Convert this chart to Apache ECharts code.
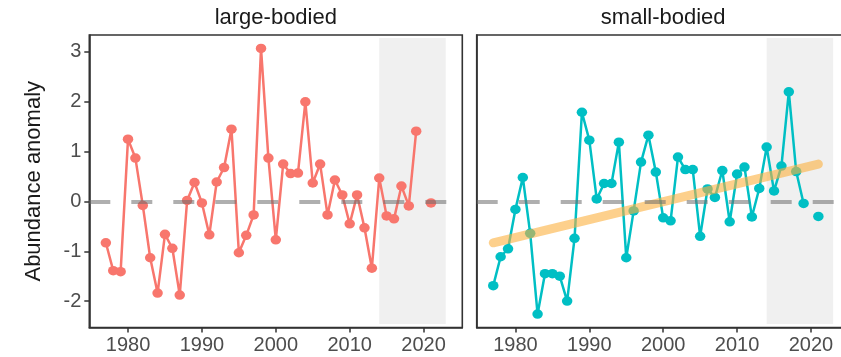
<!DOCTYPE html>
<html>
<head>
<meta charset="utf-8">
<script src="https://cdn.jsdelivr.net/npm/echarts@6/dist/echarts.min.js"></script>
<style>
  html, body { margin: 0; padding: 0; background: #fff; overflow: hidden; }
  #chart { width: 860px; height: 357px; }
</style>
</head>
<body>
<div id="chart"></div>
<script>
// Survey years (2020 has no sample)
const years = [
  1977, 1978, 1979, 1980, 1981, 1982, 1983, 1984, 1985, 1986,
  1987, 1988, 1989, 1990, 1991, 1992, 1993, 1994, 1995, 1996,
  1997, 1998, 1999, 2000, 2001, 2002, 2003, 2004, 2005, 2006,
  2007, 2008, 2009, 2010, 2011, 2012, 2013, 2014, 2015, 2016,
  2017, 2018, 2019, 2020, 2021
];

// Abundance anomaly, large-bodied group
const largeBodied = [
  -0.83, -1.39, -1.41, 1.25, 0.87, -0.08, -1.13, -1.84, -0.66, -0.94,
  -1.88, 0.02, 0.38, -0.03, -0.67, 0.39, 0.68, 1.45, -1.03, -0.68,
  -0.27, 3.07, 0.87, -0.77, 0.75, 0.56, 0.57, 2.00, 0.37, 0.75,
  -0.27, 0.43, 0.13, -0.45, 0.13, -0.53, -1.34, 0.47, -0.29, -0.35,
  0.31, -0.09, 1.41, null, -0.03
];

// Abundance anomaly, small-bodied group
const smallBodied = [
  -1.69, -1.11, -0.95, -0.16, 0.48, -0.64, -2.26, -1.45, -1.45, -1.50,
  -2.00, -0.74, 1.79, 1.23, 0.05, 0.36, 0.36, 1.19, -1.13, -0.19,
  0.79, 1.33, 0.59, -0.33, -0.39, 0.89, 0.64, 0.64, -0.70, 0.25,
  0.08, 0.62, -0.41, 0.55, 0.69, -0.31, 0.26, 1.09, 0.21, 0.71,
  2.20, 0.60, -0.04, null, -0.30
];

// Linear trend for the small-bodied group (end points)
const trendYears = [1977, 2021];
const trendSmall = [-0.83, 0.75];

// Recent period highlighted in grey
const shadeYears = [2014, 2023];

const xTicks = [1980, 1990, 2000, 2010, 2020];
const yTicks = [-2, -1, 0, 1, 2, 3];
const panelTitles = ['large-bodied', 'small-bodied'];
const yTitle = 'Abundance anomaly';

const FONT = '"Liberation Sans", Arial, Helvetica, sans-serif';
const INK = '#333333';

const pairs = (xs, ys) => xs.map((x, i) => [x, ys[i]]);

// Two facet panels on an 860px canvas; the page window crops the last few pixels
const gridTop = 35, gridBottom = 29.5;
const gridBoxes = [
  { left: 89.3, right: 397.7 },
  { left: 476.7, right: 10.3 }
];
const panelCenters = [275.8, 663.2];

function xAxisFor(idx) {
  return {
    type: 'value', gridIndex: idx, min: 1974.76, max: 2025.24,
    axisLine: { show: true, onZero: false, lineStyle: { color: INK, width: 1.6 } },
    axisTick: { show: true, customValues: xTicks, length: 5, lineStyle: { color: INK, width: 1.5 } },
    axisLabel: {
      customValues: xTicks, formatter: v => String(v),
      fontSize: 20, color: '#4d4d4d', margin: 8, fontFamily: FONT
    },
    splitLine: { show: false }
  };
}

function yAxisFor(idx, showLabels) {
  return {
    type: 'value', gridIndex: idx, min: -2.53, max: 3.34,
    name: showLabels ? yTitle : '',
    nameLocation: 'middle', nameGap: 44, nameRotate: 90,
    nameTextStyle: { fontSize: 22, color: '#1a1a1a', fontFamily: FONT },
    axisLine: { show: true, onZero: false, lineStyle: { color: INK, width: 1.6 } },
    axisTick: { show: showLabels, customValues: yTicks, length: 5, lineStyle: { color: INK, width: 1.5 } },
    axisLabel: {
      show: showLabels, customValues: yTicks, formatter: v => String(v),
      fontSize: 20, color: '#4d4d4d', margin: 8, fontFamily: FONT
    },
    splitLine: { show: false }
  };
}

function shadeSeries(idx) {
  return {
    type: 'line', xAxisIndex: idx, yAxisIndex: idx, data: [], z: 1, silent: true,
    markArea: {
      silent: true,
      itemStyle: { color: '#f0f0f0' },
      data: [[{ xAxis: shadeYears[0], yAxis: -2.46 }, { xAxis: shadeYears[1], yAxis: 3.28 }]]
    }
  };
}

function zeroSeries(idx) {
  return {
    type: 'line', xAxisIndex: idx, yAxisIndex: idx, data: [], z: 6, silent: true,
    markLine: {
      silent: true, symbol: 'none', label: { show: false },
      lineStyle: { color: 'rgba(110,110,110,0.55)', width: 4, type: [21, 21] },
      data: [{ yAxis: 0 }]
    }
  };
}

function dataSeries(idx, values, color) {
  return {
    type: 'line', xAxisIndex: idx, yAxisIndex: idx, z: 3,
    data: pairs(years, values), connectNulls: false,
    symbol: 'circle', symbolSize: [10.5, 9.5], showSymbol: true,
    itemStyle: { color: color },
    lineStyle: { color: color, width: 2.5 }
  };
}

const chart = echarts.init(document.getElementById('chart'), null, { renderer: 'canvas' });

chart.setOption({
  animation: false,
  backgroundColor: '#ffffff',
  grid: gridBoxes.map(b => ({
    left: b.left, right: b.right, top: gridTop, bottom: gridBottom,
    show: true, borderColor: INK, borderWidth: 1.6, backgroundColor: 'transparent',
    containLabel: false
  })),
  xAxis: [xAxisFor(0), xAxisFor(1)],
  yAxis: [yAxisFor(0, true), yAxisFor(1, false)],
  graphic: panelTitles.map((t, i) => ({
    type: 'text', silent: true,
    x: panelCenters[i], y: 18.4,
    style: {
      text: t, fill: '#1a1a1a', font: '22px ' + FONT,
      align: 'center', verticalAlign: 'middle'
    }
  })),
  series: [
    shadeSeries(0),
    shadeSeries(1),
    dataSeries(0, largeBodied, '#F8766D'),
    dataSeries(1, smallBodied, '#00BFC4'),
    {
      type: 'line', xAxisIndex: 1, yAxisIndex: 1, z: 4, silent: true,
      data: pairs(trendYears, trendSmall), symbol: 'none',
      lineStyle: { color: 'rgba(251,176,64,0.6)', width: 9, cap: 'round' }
    },
    zeroSeries(0),
    zeroSeries(1)
  ]
});
</script>
</body>
</html>
